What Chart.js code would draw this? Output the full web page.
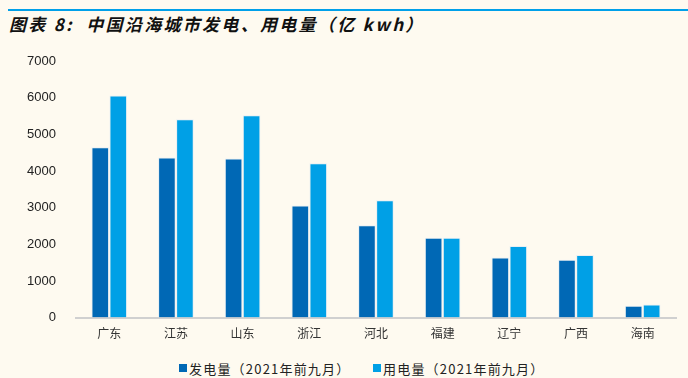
<!DOCTYPE html>
<html><head><meta charset="utf-8">
<script src="https://cdn.jsdelivr.net/npm/chart.js@4"></script>
<style>
html,body{margin:0;padding:0;background:#FEFAF0;width:688px;height:378px;overflow:hidden;}
#line{position:absolute;left:8px;top:9px;width:680px;height:2px;background:#00A0E9;}
#title{position:absolute;left:9px;top:11px;font-family:"Noto Sans CJK SC","Liberation Sans",sans-serif;font-style:italic;font-weight:bold;font-size:17px;color:#111;letter-spacing:2.3px;white-space:pre;}
#wrap{position:absolute;left:0;top:40px;width:688px;height:310px;}
.lg{position:absolute;top:359px;height:18px;display:flex;align-items:center;font-family:"Noto Sans CJK SC","Liberation Sans",sans-serif;font-size:13px;letter-spacing:1.2px;color:#222;white-space:nowrap;}
.lg span.b{display:inline-block;width:8px;height:8px;margin-right:2px;}
</style></head><body>
<div id="line"></div>
<div id="title">图表 8:  中国沿海城市发电、用电量（亿 kwh）</div>
<div id="wrap"><canvas id="c"></canvas></div>
<div class="lg" id="lg0" style="left:179px;"><span class="b"></span><span class="t"></span></div>
<div class="lg" id="lg1" style="left:373px;"><span class="b"></span><span class="t"></span></div>
<script>
const categories = ['广东','江苏','山东','浙江','河北','福建','辽宁','广西','海南'];
const generation = [4650, 4370, 4340, 3060, 2520, 2180, 1640, 1580, 320];
const consumption = [6060, 5410, 5520, 4210, 3200, 2180, 1950, 1710, 355];
const seriesNames = ['发电量（2021年前九月）','用电量（2021年前九月）'];
const seriesColors = ['#0068B5', '#00A0E6'];
const yTicks = [0,1000,2000,3000,4000,5000,6000,7000];

const chart = new Chart(document.getElementById('c'), {
  type: 'bar',
  data: {
    labels: categories,
    datasets: [
      {label: seriesNames[0], data: generation, backgroundColor: seriesColors[0], borderColor: '#E8EEF2', borderWidth: {top:1,left:1,right:1,bottom:0}, borderSkipped: false},
      {label: seriesNames[1], data: consumption, backgroundColor: seriesColors[1], borderColor: '#E8EEF2', borderWidth: {top:1,left:1,right:1,bottom:0}, borderSkipped: false}
    ]
  },
  options: {
    responsive: true,
    maintainAspectRatio: false,
    animation: false,
    devicePixelRatio: 1,
    layout: {padding: {left: 15, right: 12, top: 21, bottom: 4}},
    datasets: {bar: {categoryPercentage: 0.54, barPercentage: 0.98}},
    plugins: {
      legend: {display: false},
      tooltip: {enabled: false}
    },
    scales: {
      x: {
        grid: {display: false, drawOnChartArea: false, drawTicks: true, tickLength: 4, tickColor: '#D0D0D0'},
        border: {display: true, color: '#D0D0D0', width: 2},
        offset: true,
        ticks: {color: '#333', padding: 5, font: {family: '"Noto Sans CJK SC",sans-serif', size: 12}}
      },
      y: {
        min: 0, max: 7000,
        afterBuildTicks: (s) => { s.ticks = yTicks.map(v => ({value: v})); },
        grid: {display: false},
        border: {display: false},
        ticks: {color: '#222', padding: 12, callback: (v) => String(v), font: {family: '"Liberation Sans",Arial,sans-serif', size: 13}}
      }
    }
  }
});
chart.data.datasets.forEach((ds, i) => {
  const el = document.getElementById('lg' + i);
  el.querySelector('.b').style.background = ds.backgroundColor;
  el.querySelector('.t').textContent = ds.label;
});
</script>
</body></html>
